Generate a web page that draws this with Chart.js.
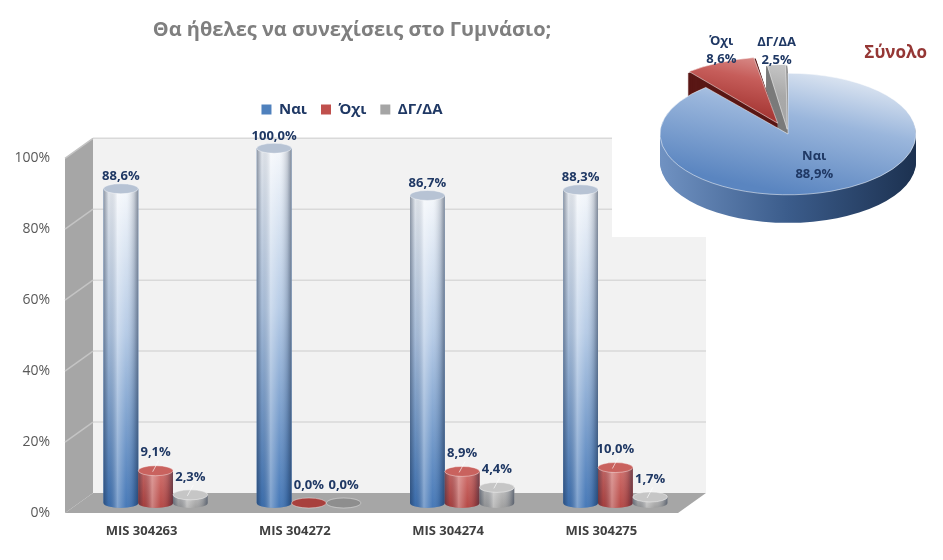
<!DOCTYPE html>
<html lang="el">
<head>
<meta charset="utf-8">
<title>Θα ήθελες να συνεχίσεις στο Γυμνάσιο;</title>
<script src="https://cdn.jsdelivr.net/npm/chart.js@4.4.1/dist/chart.umd.min.js"></script>
<style>
  html, body { margin: 0; padding: 0; background: #fff; }
  #wrap { position: relative; width: 943px; height: 560px; overflow: hidden; }
  #barBox { position: absolute; left: 0; top: 0; width: 720px; height: 560px; }
  #pieBox { position: absolute; left: 612px; top: 0; width: 331px; height: 300px; }
</style>
</head>
<body>
<div id="wrap">
  <div id="barBox"><canvas id="barChart"></canvas></div>
  <div id="pieBox"><canvas id="pieChart"></canvas></div>
</div>
<script>
// data
const chartTitle = 'Θα ήθελες να συνεχίσεις στο Γυμνάσιο;';
const categories = ['MIS 304263', 'MIS 304272', 'MIS 304274', 'MIS 304275'];
const seriesNames = ['Ναι', 'Όχι', 'ΔΓ/ΔΑ'];
const naiValues = [88.6, 100.0, 86.7, 88.3];
const oxiValues = [9.1, 0.0, 8.9, 10.0];
const dgdaValues = [2.3, 0.0, 4.4, 1.7];
const totalTitle = 'Σύνολο';
const totalValues = [88.9, 8.6, 2.5];

Chart.defaults.font.family = "'Open Sans', 'Noto Sans', sans-serif";
Chart.defaults.animation = false;

const fmt = v => v.toFixed(1).replace('.', ',') + '%';
const LABEL_COLOR = '#1f3864';

// ---------- bar chart (3D look) ----------
const DX = 14, DY = 10;   // half depth of the fake 3D box
const baseColors = ['#4f81bd', '#c0504d', '#a5a5a5'];
const bodyStops = [
  [[0, '#f4f7fb'], [0.45, '#b3c9e5'], [1, '#3d72b4']],
  [[0, '#cf6a66'], [1, '#b13f3c']],
  [[0, '#bdbdbd'], [1, '#9a9a9a']]
];
const capColors = ['#b7c3d4', '#c9625e', '#c6c6c6'];
const flatColors = ['#9fb4d0', '#a8403d', '#8e8e8e'];   // discs for 0 values

function poly(ctx, pts) {
  ctx.beginPath();
  pts.forEach((p, i) => i ? ctx.lineTo(p[0], p[1]) : ctx.moveTo(p[0], p[1]));
  ctx.closePath();
  ctx.fill();
}

const box3d = {
  id: 'box3d',
  beforeDatasetsDraw(chart) {
    const { ctx, chartArea: a, scales: { y } } = chart;
    const top = y.getPixelForValue(100), bot = y.getPixelForValue(0);
    ctx.save();
    ctx.fillStyle = '#f2f2f2';
    ctx.fillRect(a.left + DX, top - DY, a.right - a.left, bot - top);
    ctx.fillStyle = '#a6a6a6';
    poly(ctx, [[a.left - DX, top + DY], [a.left + DX, top - DY], [a.left + DX, bot - DY], [a.left - DX, bot + DY]]);
    poly(ctx, [[a.left - DX, bot + DY], [a.left + DX, bot - DY], [a.right + DX, bot - DY], [a.right - DX, bot + DY]]);
    y.ticks.forEach(t => {
      if (t.value === 0) return;
      const py = y.getPixelForValue(t.value);
      ctx.strokeStyle = '#d9d9d9';
      ctx.lineWidth = 1.5;
      ctx.beginPath();
      ctx.moveTo(a.left + DX, py - DY);
      ctx.lineTo(a.right + DX, py - DY);
      ctx.stroke();
      ctx.strokeStyle = '#c4c4c4';
      ctx.beginPath();
      ctx.moveTo(a.left - DX, py + DY);
      ctx.lineTo(a.left + DX, py - DY);
      ctx.stroke();
    });
    ctx.restore();
  },
  afterDatasetsDraw(chart) {
    const ctx = chart.ctx;
    const ry = 5;
    chart.data.datasets.forEach((ds, di) => {
      chart.getDatasetMeta(di).data.forEach((bar, i) => {
        const { x, y, base, width } = bar.getProps(['x', 'y', 'base', 'width']);
        const l = x - width / 2, r = x + width / 2;
        const v = ds.data[i];
        ctx.save();
        if (v > 0) {
          ctx.beginPath();
          ctx.moveTo(l, y);
          ctx.lineTo(l, base);
          ctx.ellipse(x, base, width / 2, ry, 0, Math.PI, 0, true);
          ctx.lineTo(r, y);
          ctx.closePath();
          const g = ctx.createLinearGradient(0, y, 0, base + ry);
          bodyStops[di].forEach(s => g.addColorStop(s[0], s[1]));
          ctx.fillStyle = g;
          ctx.fill();
          const h = ctx.createLinearGradient(l, 0, r, 0);
          h.addColorStop(0, 'rgba(20,35,60,0.45)');
          h.addColorStop(0.15, 'rgba(20,35,60,0.08)');
          h.addColorStop(0.4, 'rgba(255,255,255,0.35)');
          h.addColorStop(0.65, 'rgba(255,255,255,0.05)');
          h.addColorStop(0.88, 'rgba(20,35,60,0.2)');
          h.addColorStop(1, 'rgba(20,35,60,0.5)');
          ctx.fillStyle = h;
          ctx.fill();
        }
        // top cap (or flat disc for zero)
        ctx.beginPath();
        ctx.ellipse(x, y, width / 2, ry, 0, 0, Math.PI * 2);
        ctx.fillStyle = v > 0 ? capColors[di] : flatColors[di];
        ctx.fill();
        ctx.strokeStyle = 'rgba(255,255,255,0.5)';
        ctx.lineWidth = 0.8;
        ctx.stroke();
        ctx.restore();

        // value label
        ctx.save();
        ctx.font = "bold 13px 'Open Sans', sans-serif";
        ctx.fillStyle = LABEL_COLOR;
        ctx.textAlign = 'center';
        ctx.textBaseline = 'middle';
        const ly = di === 0 ? y - 12 : y - 18;
        if (di > 0 && v > 0) {
          ctx.strokeStyle = 'rgba(255,255,255,0.8)';
          ctx.lineWidth = 0.8;
          ctx.beginPath();
          ctx.moveTo(x + 3, ly + 8);
          ctx.lineTo(x - 3, y + 1);
          ctx.stroke();
        }
        ctx.fillText(fmt(v), x, ly);
        ctx.restore();
      });
    });
  }
};

new Chart(document.getElementById('barChart'), {
  type: 'bar',
  data: {
    labels: categories,
    datasets: [
      { label: seriesNames[0], data: naiValues, backgroundColor: baseColors[0] },
      { label: seriesNames[1], data: oxiValues, backgroundColor: baseColors[1] },
      { label: seriesNames[2], data: dgdaValues, backgroundColor: baseColors[2] }
    ]
  },
  options: {
    responsive: true,
    maintainAspectRatio: false,
    layout: { padding: { left: 12, right: 28 } },
    datasets: { bar: { categoryPercentage: 0.68, barPercentage: 1.0, borderWidth: 0 } },
    plugins: {
      title: {
        display: true, text: chartTitle, color: '#7f7f7f',
        font: { size: 20, weight: 'bold' }, padding: { top: 18, bottom: 46 }
      },
      legend: {
        labels: {
          boxWidth: 10, boxHeight: 10, padding: 14, color: LABEL_COLOR,
          font: { size: 15, weight: 'bold' }
        }
      },
      tooltip: { enabled: false }
    },
    scales: {
      x: {
        grid: { display: false, drawTicks: false },
        border: { display: false },
        ticks: { color: '#404040', font: { size: 13, weight: 'bold' }, padding: 20, labelOffset: -14 },
        afterFit: s => { s.height = 57; }
      },
      y: {
        min: 0, max: 106,
        grid: { display: false, drawTicks: false },
        border: { display: false },
        ticks: { stepSize: 20, color: '#595959', font: { size: 14 }, padding: 29, labelOffset: 10, callback: v => v + '%' },
        afterBuildTicks: s => { s.ticks = s.ticks.filter(t => t.value <= 100); },
        afterFit: s => { s.width = 67; }
      }
    }
  },
  plugins: [box3d]
});

// ---------- pie chart (Σύνολο) ----------
const PIE_CX = 176, PIE_CY = 134, PIE_K = 0.475, PIE_R = 128, PIE_DEPTH = 28;
const pieTop = [
  [[0, '#dfe7f2'], [0.4, '#9ab6dc'], [1, '#5a85c0']],
  [[0, '#e0a09d'], [0.25, '#c65d5a'], [0.5, '#a83a37'], [1, '#8e2f2c']],
  [[0, '#cdcdcd'], [0.3, '#a9a9a9'], [1, '#9d9d9d']]
];
const pieSide = ['#1c3150', '#5a1715', '#7a7a7a'];

function pieTopFill(c) {
  const chart = c.chart, a = chart.chartArea;
  if (!a) return baseColors[c.dataIndex];
  const cx = (a.left + a.right) / 2, cy = (a.top + a.bottom) / 2;
  const g = chart.ctx.createLinearGradient(cx + 0.4 * PIE_R, cy - PIE_R, cx - 0.4 * PIE_R, cy + 0.8 * PIE_R);
  pieTop[c.dataIndex].forEach(s => g.addColorStop(s[0], s[1]));
  return g;
}

function squash(ctx, x, y) {
  ctx.translate(PIE_CX, PIE_CY);
  ctx.scale(1, PIE_K);
  ctx.translate(-x, -y);
}

const pie3d = {
  id: 'pie3d',
  beforeDraw(chart) {
    const ctx = chart.ctx;
    ctx.save();
    ctx.fillStyle = '#ffffff';
    ctx.fillRect(0, 0, chart.width, 237);
    ctx.restore();
  },
  beforeDatasetsDraw(chart) {
    const ctx = chart.ctx;
    const arcs = chart.getDatasetMeta(0).data;
    for (let d = PIE_DEPTH; d > 0; d--) {
      arcs.forEach((arc, i) => {
        const p = arc.getProps(['x', 'y', 'startAngle', 'endAngle', 'outerRadius', 'circumference']);
        const t = (arc.options.offset || 0) / 4;
        const fix = 1 - Math.sin(Math.min(Math.PI, p.circumference || 0));
        const mid = (p.startAngle + p.endAngle) / 2;
        const cx = p.x + Math.cos(mid) * t, cy = p.y + Math.sin(mid) * t;
        ctx.save();
        ctx.translate(0, d);
        squash(ctx, p.x, p.y);
        ctx.beginPath();
        ctx.moveTo(cx, cy);
        ctx.arc(cx, cy, p.outerRadius + t * fix, p.startAngle, p.endAngle);
        ctx.closePath();
        if (i === 0) {
          const g = ctx.createLinearGradient(p.x - PIE_R, 0, p.x + PIE_R, 0);
          g.addColorStop(0, '#7092c2');
          g.addColorStop(0.5, '#3b5c8b');
          g.addColorStop(1, pieSide[0]);
          ctx.fillStyle = g;
        } else {
          ctx.fillStyle = pieSide[i];
        }
        ctx.fill();
        ctx.restore();
      });
    }
    const a0 = arcs[0];
    ctx.save();
    squash(ctx, a0.x, a0.y);
  },
  afterDatasetsDraw(chart) {
    const ctx = chart.ctx;
    ctx.restore();
    const arcs = chart.getDatasetMeta(0).data;
    ctx.save();
    ctx.font = "bold 13px 'Open Sans', sans-serif";
    ctx.fillStyle = LABEL_COLOR;
    ctx.textAlign = 'center';
    ctx.textBaseline = 'middle';
    arcs.forEach((arc, i) => {
      const p = arc.getProps(['startAngle', 'endAngle']);
      const mid = (p.startAngle + p.endAngle) / 2;
      const t = (arc.options.offset || 0) / 4;
      const rr = i === 0 ? PIE_R * 0.6 : PIE_R + t + 8;
      const lx = PIE_CX + Math.cos(mid) * rr;
      const ly = PIE_CY + Math.sin(mid) * rr * PIE_K - (i === 0 ? 3 : 14);
      ctx.fillText(seriesNames[i], lx, ly - 9);
      ctx.fillText(fmt(totalValues[i]), lx, ly + 9);
    });
    ctx.restore();
  }
};

new Chart(document.getElementById('pieChart'), {
  type: 'pie',
  data: {
    labels: seriesNames,
    datasets: [{
      data: totalValues,
      backgroundColor: pieTopFill,
      borderColor: 'rgba(255,255,255,0.7)',
      borderWidth: 1,
      offset: [0, 100, 40],
      clip: false
    }]
  },
  options: {
    responsive: true,
    maintainAspectRatio: false,
    radius: PIE_R,
    layout: { padding: { right: 16 } },
    plugins: {
      legend: { display: false },
      tooltip: { enabled: false },
      title: {
        display: true, text: totalTitle, align: 'end', color: '#953735',
        font: { size: 17, weight: 'bold' }, padding: { top: 43, bottom: 0 }
      }
    }
  },
  plugins: [pie3d]
});
</script>
</body>
</html>
